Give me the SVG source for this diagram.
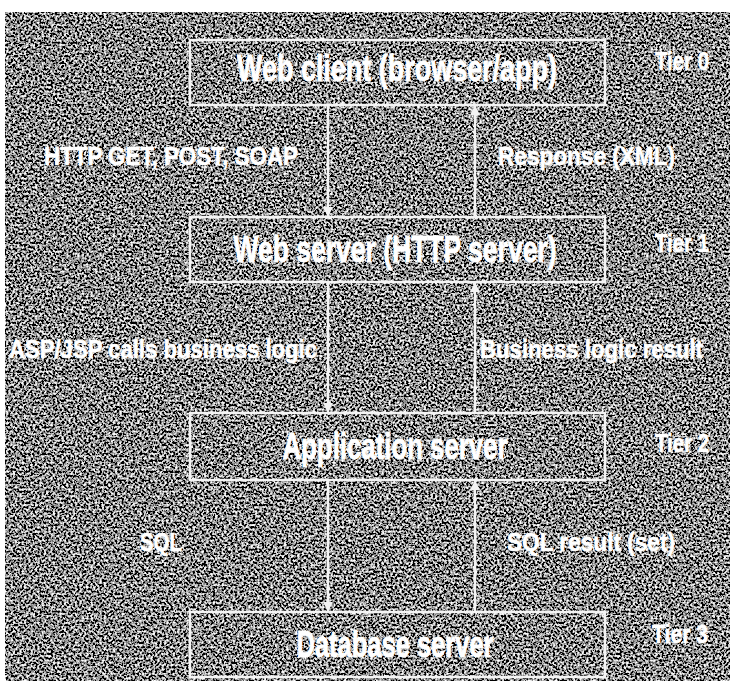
<svg xmlns="http://www.w3.org/2000/svg" width="730" height="681" viewBox="0 0 730 681">
  <style>
    .box { fill: none; stroke: #f4f4f4; stroke-width: 2.5; }
    .node { font-family: "Liberation Sans", Arial, sans-serif; font-weight: bold; font-size: 36px; fill: #ffffff; stroke: #ffffff; stroke-width: 0.8; }
    .lbl { font-family: "Liberation Sans", Arial, sans-serif; font-weight: bold; font-size: 25px; fill: #ffffff; stroke: #ffffff; stroke-width: 0.6; }
    .tier { font-family: "Liberation Sans", Arial, sans-serif; font-weight: bold; font-size: 25px; fill: #ffffff; stroke: #ffffff; stroke-width: 0.6; }
    .conn { stroke: #f4f4f4; stroke-width: 2.5; fill: none; }
  </style>
  <defs>
    <filter id="noise" x="0" y="0" width="100%" height="100%" filterUnits="objectBoundingBox">
      <feTurbulence type="fractalNoise" baseFrequency="0.45" numOctaves="2" seed="7" result="t"/>
      <feColorMatrix in="t" type="matrix" values="3.1 0 0 0 -1.28  3.1 0 0 0 -1.28  3.1 0 0 0 -1.28  0 0 0 0 1"/>
    </filter>
    <marker id="ah" viewBox="0 0 10 10" refX="9" refY="5" markerWidth="4" markerHeight="4" orient="auto" markerUnits="strokeWidth">
      <path d="M0,0 L10,5 L0,10 z" fill="#f4f4f4"/>
    </marker>
  </defs>
  <rect x="0" y="0" width="730" height="681" fill="#ffffff"/>
  <rect x="5" y="12" width="725" height="669" fill="#3a3a3a"/>
  <rect x="5" y="12" width="725" height="669" filter="url(#noise)"/>

  <g id="tier0">
    <rect class="box" x="190" y="40" width="415" height="65"/>
    <text class="node" x="397" y="81" text-anchor="middle" textLength="320" lengthAdjust="spacingAndGlyphs">Web client (browser/app)</text>
    <text class="tier" x="655" y="70" textLength="54" lengthAdjust="spacingAndGlyphs">Tier 0</text>
  </g>
  <g id="tier1">
    <rect class="box" x="190" y="217" width="415" height="65"/>
    <text class="node" x="395" y="262" text-anchor="middle" textLength="323" lengthAdjust="spacingAndGlyphs">Web server (HTTP server)</text>
    <text class="tier" x="655" y="252" textLength="54" lengthAdjust="spacingAndGlyphs">Tier 1</text>
  </g>
  <g id="tier2">
    <rect class="box" x="190" y="413" width="415" height="67"/>
    <text class="node" x="395" y="459" text-anchor="middle" textLength="225" lengthAdjust="spacingAndGlyphs">Application server</text>
    <text class="tier" x="655" y="452" textLength="54" lengthAdjust="spacingAndGlyphs">Tier 2</text>
  </g>
  <g id="tier3">
    <rect class="box" x="190" y="612" width="415" height="65"/>
    <text class="node" x="395" y="657" text-anchor="middle" textLength="197" lengthAdjust="spacingAndGlyphs">Database server</text>
    <text class="tier" x="652" y="643" textLength="56" lengthAdjust="spacingAndGlyphs">Tier 3</text>
  </g>

  <g id="connectors">
    <line class="conn" x1="328" y1="105" x2="328" y2="216" marker-end="url(#ah)"/>
    <line class="conn" x1="475" y1="217" x2="475" y2="106" marker-end="url(#ah)"/>
    <line class="conn" x1="328" y1="282" x2="328" y2="412" marker-end="url(#ah)"/>
    <line class="conn" x1="475" y1="413" x2="475" y2="283" marker-end="url(#ah)"/>
    <line class="conn" x1="328" y1="480" x2="328" y2="611" marker-end="url(#ah)"/>
    <line class="conn" x1="475" y1="612" x2="475" y2="481" marker-end="url(#ah)"/>
    <text class="lbl" x="44" y="165" textLength="254" lengthAdjust="spacingAndGlyphs">HTTP GET, POST, SOAP</text>
    <text class="lbl" x="498" y="165" textLength="177" lengthAdjust="spacingAndGlyphs">Response (XML)</text>
    <text class="lbl" x="9" y="358" textLength="308" lengthAdjust="spacingAndGlyphs">ASP/JSP calls business logic</text>
    <text class="lbl" x="480" y="358" textLength="223" lengthAdjust="spacingAndGlyphs">Business logic result</text>
    <text class="lbl" x="140" y="551" textLength="42" lengthAdjust="spacingAndGlyphs">SQL</text>
    <text class="lbl" x="507" y="551" textLength="168" lengthAdjust="spacingAndGlyphs">SQL result (set)</text>
  </g>
</svg>
